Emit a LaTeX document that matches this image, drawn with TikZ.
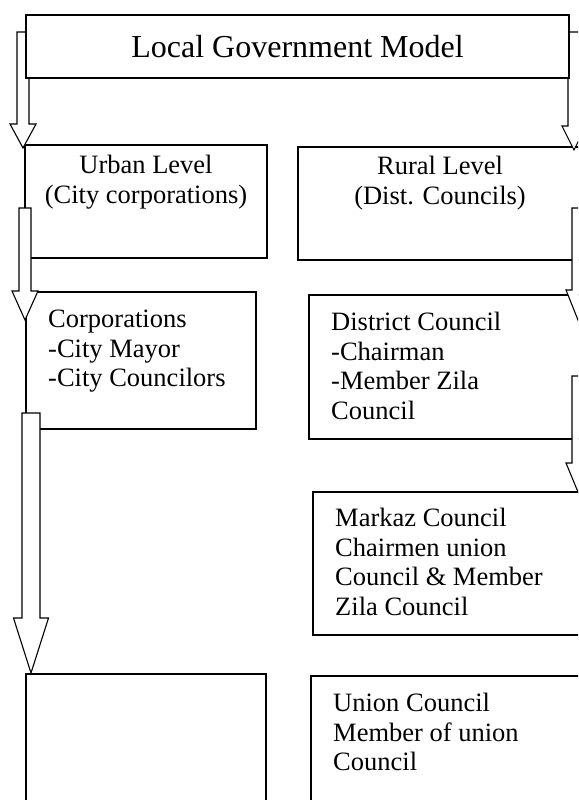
\documentclass[tikz,border=0pt]{standalone}
\usepackage{fontspec}
\setmainfont{Liberation Serif}
\usetikzlibrary{calc,positioning}
\pgfdeclarelayer{front}
\pgfsetlayers{main,front}
\tikzset{box/.style={draw, line width=1.7pt, fill=white, inner sep=0pt, outer sep=0pt, anchor=north west},
boxtext/.style={anchor=north west, align=left, inner sep=0pt, font=\fontsize{26.5}{29.5}\selectfont},
arrowbody/.style={draw, line width=1.1pt, fill=white, line join=miter}}
% #1 top of shaft, #2 tip, #3 half shaft, #4 half head, #5 head length
\newcommand{\fatarrow}[5]{%
  \draw[arrowbody] let \p1=(#1), \p2=(#2) in
    (\x2-#3pt,\y1) -- (\x2+#3pt,\y1) -- (\x2+#3pt,\y2+#5pt) -- (\x2+#4pt,\y2+#5pt)
    -- (\x2,\y2) -- (\x2-#4pt,\y2+#5pt) -- (\x2-#3pt,\y2+#5pt) -- cycle;}

\begin{document}
\begin{tikzpicture}[x=1pt, y=-1pt]
\useasboundingbox (0,0) rectangle (578,800);
\clip (0,0) rectangle (578,800);
\fill[white] (0,0) rectangle (578,800);

\begin{pgfonlayer}{front}
\node[box, minimum width=543pt, minimum height=63pt] (title) at (26,15) {};
\node[font=\fontsize{32}{36}\selectfont, inner sep=0pt] (titletext) at (title.center) {Local Government Model};
\end{pgfonlayer}

\node[box, minimum width=242pt, minimum height=113pt] (urban) at (25,145) {};
\node[box, minimum width=300pt, minimum height=113pt] (rural) at (298,147) {};
\node[box, minimum width=230pt, minimum height=137pt] (corp) at (26,292) {};
\node[box, minimum width=300pt, minimum height=144pt] (district) at (309,295) {};
\node[box, minimum width=300pt, minimum height=143pt] (markaz) at (313,492) {};
\node[box, minimum width=240pt, minimum height=150pt] (blank) at (26,674) {};
\node[box, minimum width=300pt, minimum height=150pt] (union) at (311,676) {};

\node[boxtext, anchor=north, align=center] (urbantext) at ($(urban.north)+(0,10)$) {Urban Level\\(City corporations)};
\node[boxtext, anchor=north, align=center] (ruraltext) at ($(rural.north west)+(142,9)$) {Rural Level\\(Dist. Councils)};
\node[boxtext] (corptext) at ($(corp.north west)+(22,18)$) {Corporations\\-City Mayor\\-City Councilors};
\node[boxtext] (districttext) at ($(district.north west)+(22,17)$) {District Council\\-Chairman\\-Member Zila\\Council};
\node[boxtext] (markaztext) at ($(markaz.north west)+(22,16)$) {Markaz Council\\Chairmen union\\Council \& Member\\Zila Council};
\node[boxtext] (uniontext) at ($(union.north west)+(22,17)$) {Union Council\\Member of union\\Council};

\coordinate (aL) at ($(title.north west)+(-3,17)$);
\coordinate (aR) at ($(title.north east)+(5,17)$);
\coordinate (bL) at ($(urban.north west)+(0,63)$);
\coordinate (bR) at ($(rural.north west)+(280,61)$);
\coordinate (cR) at ($(district.north west)+(269,81)$);
\coordinate (cL) at ($(corp.north west)+(5,121)$);

\fatarrow{aL}{$(urban.north west)+(-2,3)$}{6}{13}{24}
\fatarrow{aR}{$(rural.north west)+(276,3)$}{6}{12}{24}
\fatarrow{bL}{$(corp.north west)+(-1,28)$}{6}{13}{29}
\fatarrow{bR}{$(district.north west)+(269,25)$}{6}{12}{30}
\fatarrow{cR}{$(markaz.north west)+(265,0)$}{6}{12}{29}
\fatarrow{cL}{$(blank.north west)+(5,-1)$}{9}{17.5}{55}
\end{tikzpicture}
\end{document}
